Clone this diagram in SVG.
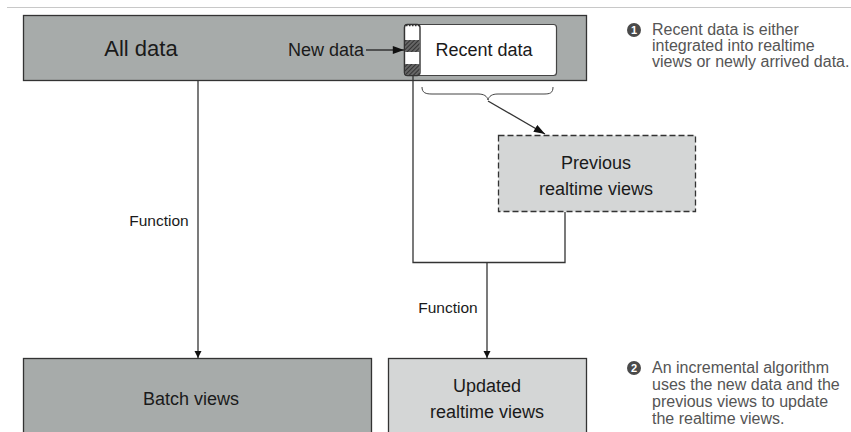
<svg xmlns="http://www.w3.org/2000/svg" width="851" height="432" viewBox="0 0 851 432">
  <style>
    .box { stroke: #333; stroke-width: 1.3; }
    .dark { fill: #a7abaa; }
    .light { fill: #d4d6d6; }
    .t { font-family: "Liberation Sans", Arial, sans-serif; fill: #1a1a1a; }
    .note { font-family: "Liberation Sans", Arial, sans-serif; fill: #555; font-size: 16px; }
    .line { stroke: #333; stroke-width: 1.3; fill: none; }
    .num { fill: #4a4a4a; }
    .numt { font-family: "Liberation Sans", Arial, sans-serif; fill: #fff; font-size: 11px; font-weight: bold; }
  </style>
  <defs>
    <marker id="arrow" viewBox="0 0 10 10" refX="10" refY="5" markerWidth="7" markerHeight="8" markerUnits="userSpaceOnUse" orient="auto">
      <path d="M0,0 L10,5 L0,10 z" fill="#111"/>
    </marker>
    <marker id="arrowLong" viewBox="0 0 14 10" refX="14" refY="5" markerWidth="12" markerHeight="8" markerUnits="userSpaceOnUse" orient="auto">
      <path d="M0,0 L14,5 L0,10 z" fill="#111"/>
    </marker>
    <pattern id="hatch" width="3" height="3" patternUnits="userSpaceOnUse" patternTransform="rotate(45)">
      <rect width="3" height="3" fill="#666"/>
      <line x1="0" y1="0" x2="0" y2="3" stroke="#222" stroke-width="1.5"/>
    </pattern>
  </defs>

  <!-- header rule -->
  <line x1="7" y1="7.5" x2="851" y2="7.5" stroke="#c8c8c8" stroke-width="1"/>

  <!-- All data -->
  <g id="all-data">
    <rect class="box dark" x="23.5" y="15.5" width="563" height="65"/>
    <text class="t" x="141" y="56" font-size="22" text-anchor="middle">All data</text>
  </g>

  <!-- New data label -->
  <g id="new-data">
    <text class="t" x="288" y="56" font-size="18">New data</text>
  </g>

  <!-- Recent data with incoming strip -->
  <g id="recent-data">
    <rect x="404.5" y="24.5" width="152" height="51" rx="3" fill="#fff" stroke="#444" stroke-width="1.2"/>
    <rect x="404.5" y="24.5" width="15.5" height="51" rx="3" fill="#fff" stroke="#333" stroke-width="1.4"/>
    <rect x="405" y="40" width="14.5" height="12" fill="url(#hatch)"/>
    <rect x="405" y="64" width="14.5" height="11" fill="url(#hatch)"/>
    <line x1="406" y1="25.5" x2="419" y2="25.5" stroke="#333" stroke-width="1.5" stroke-dasharray="1.5 1.5"/>
    <text class="t" x="484" y="56" font-size="18" text-anchor="middle">Recent data</text>
  </g>

  <!-- Previous realtime views -->
  <g id="previous-views">
    <rect class="light" x="498.5" y="135.5" width="197" height="76" stroke="#333" stroke-width="1.3" stroke-dasharray="6 3"/>
    <text class="t" x="596" y="169" font-size="18" text-anchor="middle">Previous</text>
    <text class="t" x="596" y="195" font-size="18" text-anchor="middle">realtime views</text>
  </g>

  <!-- Batch views -->
  <g id="batch-views">
    <rect class="box dark" x="23.5" y="358.5" width="348" height="80"/>
    <text class="t" x="191" y="405" font-size="18" text-anchor="middle">Batch views</text>
  </g>

  <!-- Updated realtime views -->
  <g id="updated-views">
    <rect class="box light" x="388.5" y="358.5" width="198" height="80"/>
    <text class="t" x="487" y="392" font-size="18" text-anchor="middle">Updated</text>
    <text class="t" x="487" y="418" font-size="18" text-anchor="middle">realtime views</text>
  </g>

  <!-- connectors -->
  <g id="connectors">
    <line class="line" x1="366" y1="50" x2="404" y2="50" marker-end="url(#arrowLong)"/>
    <line class="line" x1="198" y1="81" x2="198" y2="358" marker-end="url(#arrow)"/>
    <path class="line" d="M413,76 V262.5 H565 V212"/>
    <line class="line" x1="487" y1="262.5" x2="487" y2="358" marker-end="url(#arrow)"/>
    <!-- brace under Recent data -->
    <path d="M422,87 C422,93 426,94 432,94 L478,94 C484,94 487,96 488,100 C489,96 492,94 498,94 L544,94 C550,94 553,93 553,87" fill="none" stroke="#444" stroke-width="1"/>
    <line x1="488" y1="101" x2="545" y2="134" stroke="#333" stroke-width="1.3" marker-end="url(#arrowLong)"/>
    <text class="t" x="159" y="226" font-size="15.5" text-anchor="middle">Function</text>
    <text class="t" x="448" y="313" font-size="15.5" text-anchor="middle">Function</text>
  </g>

  <!-- callout 1 -->
  <g id="note-1">
    <circle class="num" cx="634" cy="30" r="7"/>
    <text class="numt" x="634" y="34" text-anchor="middle">1</text>
    <text class="note" x="652" y="35">Recent data is either</text>
    <text class="note" x="652" y="51">integrated into realtime</text>
    <text class="note" x="652" y="67">views or newly arrived data.</text>
  </g>

  <!-- callout 2 -->
  <g id="note-2">
    <circle class="num" cx="634" cy="368" r="7"/>
    <text class="numt" x="634" y="372" text-anchor="middle">2</text>
    <text class="note" x="652" y="373">An incremental algorithm</text>
    <text class="note" x="652" y="390">uses the new data and the</text>
    <text class="note" x="652" y="407">previous views to update</text>
    <text class="note" x="652" y="424">the realtime views.</text>
  </g>
</svg>
